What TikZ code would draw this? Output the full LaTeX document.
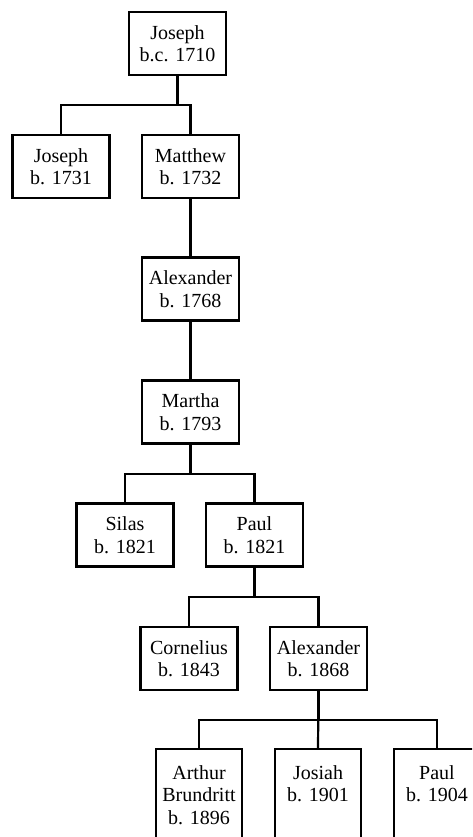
\documentclass[tikz,border=0pt]{standalone}
\usepackage{fontspec}
\setmainfont{Liberation Serif}
\tikzset{person/.style={draw, line width=2.2pt, align=center, inner sep=0pt,
    minimum width=97pt, minimum height=63pt, font=\fontsize{20}{22.5}\selectfont},
  leaf/.style={person, minimum width=86pt, minimum height=92pt}}
\begin{document}
\begin{tikzpicture}[x=1pt, y=-1pt, line width=2.2pt]
        \useasboundingbox (0,0) rectangle (472,837);
        \clip (0,0) rectangle (472,837);
        % generations
        \node[person] (j1710) at (177.5,43.5) {Joseph\\b.c. 1710};
        \node[person] (j1731) at (61,166.5) {Joseph\\b. 1731};
        \node[person] (m1732) at (190.5,166.5) {Matthew\\b. 1732};
        \node[person] (a1768) at (190.5,289) {Alexander\\b. 1768};
        \node[person] (m1793) at (190.5,412) {Martha\\b. 1793};
        \node[person] (s1821) at (125,535) {Silas\\b. 1821};
        \node[person] (p1821) at (254.5,535) {Paul\\b. 1821};
        \node[person] (c1843) at (189,658.5) {Cornelius\\b. 1843};
        \node[person] (a1868) at (318.5,658.5) {Alexander\\b. 1868};
        \node[leaf] (a1896) at (199,795) {Arthur\\Brundritt\\b. 1896};
        \node[leaf] (j1901) at (318,795) {Josiah\\b. 1901\\~};
        \node[leaf] (p1904) at (437,795) {Paul\\b. 1904\\~};
        % lines of descent
        \draw (j1710.south) -- ++(0,29) -| (j1731.north);
        \draw (j1710.south) -- ++(0,29) -| (m1732.north);
        \draw (m1732.south) -- (a1768.north);
        \draw (a1768.south) -- (m1793.north);
        \draw (m1793.south) -- ++(0,29) -| (s1821.north);
        \draw (m1793.south) -- ++(0,29) -| (p1821.north);
        \draw (p1821.south) -- ++(0,29) -| (c1843.north);
        \draw (p1821.south) -- ++(0,29) -| (a1868.north);
        \draw (a1868.south) -- ++(0,29) -| (a1896.north);
        \draw (a1868.south) -- (j1901.north);
        \draw (a1868.south) -- ++(0,29) -| (p1904.north);
\end{tikzpicture}
\end{document}
